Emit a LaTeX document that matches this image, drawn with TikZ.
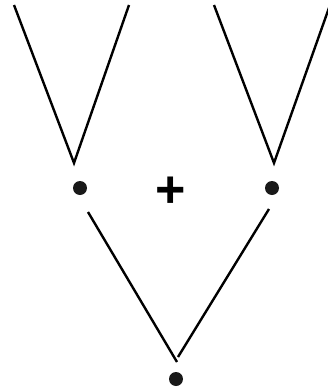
\documentclass[tikz,border=0pt]{standalone}
\usepackage{fontspec}
\setmainfont{Liberation Sans}
\begin{document}
\begin{tikzpicture}[x=1pt,y=-1pt,
  edge/.style={line width=2.4pt, line cap=butt},
  dot/.style={circle, fill=black!90, inner sep=0pt, minimum size=14pt}]
\useasboundingbox (0,0) rectangle (328,389);
% left V
\coordinate (la) at (14,5);
\coordinate (lb) at (129,5);
\coordinate (lv) at (74,163);
% right V
\coordinate (ra) at (214,5);
\coordinate (rb) at (330,5);
\coordinate (rv) at (274,163);
% dots
\node[dot] (d1) at (80,188) {};
\node[dot] (d2) at (272,188) {};
\node[dot] (d3) at (176,379) {};
\node (plus) at (171,192) {\fontsize{52}{52}\selectfont\bfseries +};
% lower V
\coordinate (ls) at (88,212);
\coordinate (le) at (177,362);
\coordinate (rs) at (269,209);
\coordinate (re) at (178,357);
\draw[edge] (la) -- (lv) -- (lb);
\draw[edge] (ra) -- (rv) -- (rb);
\draw[edge] (ls) -- (le);
\draw[edge] (rs) -- (re);
\end{tikzpicture}
\end{document}
